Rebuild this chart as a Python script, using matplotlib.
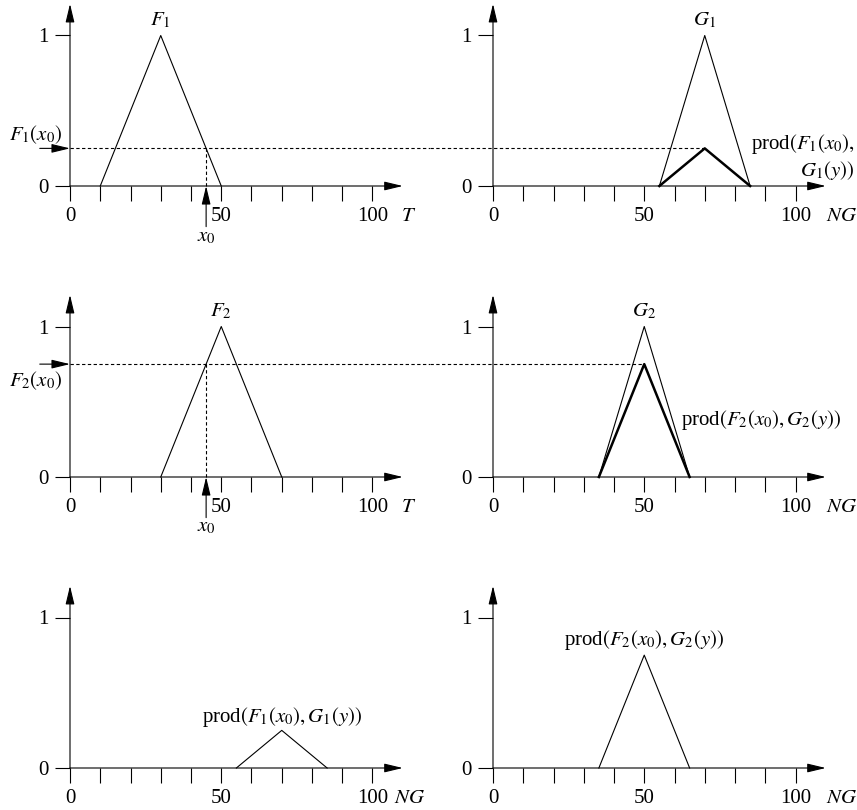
import matplotlib.pyplot as plt
import numpy as np

plt.rcParams['font.family'] = ['Liberation Serif', 'DejaVu Serif']
plt.rcParams['mathtext.fontset'] = 'stix'
plt.rcParams['font.size'] = 15

# membership functions (x corners, y corners)
F1_x = [10, 30, 50]
F2_x = [30, 50, 70]
G1_x = [55, 70, 85]
G2_x = [35, 50, 65]
tri_y = [0, 1, 0]
x0 = 45
tick_pos = list(range(0, 101, 10))
tick_lab = ['0', '', '', '', '', '50', '', '', '', '', '100']

F1_x0 = np.interp(x0, F1_x, tri_y)   # 0.25
F2_x0 = np.interp(x0, F2_x, tri_y)   # 0.75
prod1 = [F1_x0 * v for v in tri_y]
prod2 = [F2_x0 * v for v in tri_y]

W, H = 857, 810
fig = plt.figure(figsize=(W / 100, H / 100), dpi=100)

PX_X = 3.025
PX_Y = 150.5
cols = [(0, 430, 70), (430, 857, 493)]
rows = [(0, 291, 186), (291, 582, 477), (582, 810, 768)]
dash = (0, (3, 2.2))


def panel(col, row, xname, xname_x):
    c0, c1, xz = cols[col]
    r0, r1, yz = rows[row]
    ax = fig.add_axes([c0 / W, 1 - r1 / H, (c1 - c0) / W, (r1 - r0) / H])
    ax.set_xlim((c0 - xz) / PX_X, (c1 - xz) / PX_X)
    ax.set_ylim(-(r1 - yz) / PX_Y, (yz - r0) / PX_Y)
    ax.patch.set_visible(False)
    for s in ax.spines.values():
        s.set_visible(False)
    ax.spines['bottom'].set_position(('data', 0))
    ax.spines['left'].set_position(('data', 0))
    ax.set_xticks(tick_pos, tick_lab)
    ax.set_yticks([0, 1], ['0', '1'])
    ax.tick_params(direction='out', length=10.8, width=0.8, pad=4, labelsize=15)
    ax.tick_params(axis='y', pad=4.5)
    arw = dict(arrowstyle='-|>,head_length=0.75,head_width=0.18', lw=0.8,
               color='k', shrinkA=0, shrinkB=0)
    ax.annotate('', xy=(110, 0), xytext=(0, 0), arrowprops=arw)
    ax.annotate('', xy=(0, 1.21), xytext=(0, 0), arrowprops=arw)
    ax.text(xname_x, -0.2, xname, ha='left', va='center')
    return ax, arw


# row 1
ax, arw = panel(0, 0, '$T$', 109.5)
ax.plot(F1_x, tri_y, color='k', lw=0.8)
ax.text(30, 1.1, '$F_1$', ha='center', va='center')
ax.plot([0, ax.get_xlim()[1]], [F1_x0, F1_x0], color='k', lw=0.8, ls=dash)
ax.plot([x0, x0], [0, F1_x0], color='k', lw=0.8, ls=dash)
ax.annotate('', xy=(x0, 0), xytext=(x0, -0.27), arrowprops=arw)
ax.text(x0, -0.34, '$x_0$', ha='center', va='center')
ax.annotate('', xy=(0, F1_x0), xytext=(-10, F1_x0), arrowprops=arw)
ax.text(-11.5, 0.34, '$F_1(x_0)$', ha='center', va='center')

ax, arw = panel(1, 0, '$NG$', 110)
ax.plot(G1_x, tri_y, color='k', lw=0.8)
ax.plot(G1_x, prod1, color='k', lw=1.8)
ax.text(70, 1.1, '$G_1$', ha='center', va='center')
ax.plot([ax.get_xlim()[0], 70], [F1_x0, F1_x0], color='k', lw=0.8, ls=dash)
ax.text(119.5, 0.28, 'prod$(F_1(x_0),$', ha='right', va='center')
ax.text(119.5, 0.105, '$G_1(y))$', ha='right', va='center')

# row 2
ax, arw = panel(0, 1, '$T$', 109.5)
ax.plot(F2_x, tri_y, color='k', lw=0.8)
ax.text(50, 1.1, '$F_2$', ha='center', va='center')
ax.plot([0, ax.get_xlim()[1]], [F2_x0, F2_x0], color='k', lw=0.8, ls=dash)
ax.plot([x0, x0], [0, F2_x0], color='k', lw=0.8, ls=dash)
ax.annotate('', xy=(x0, 0), xytext=(x0, -0.27), arrowprops=arw)
ax.text(x0, -0.33, '$x_0$', ha='center', va='center')
ax.annotate('', xy=(0, F2_x0), xytext=(-10, F2_x0), arrowprops=arw)
ax.text(-11.5, 0.64, '$F_2(x_0)$', ha='center', va='center')

ax, arw = panel(1, 1, '$NG$', 110)
ax.plot(G2_x, tri_y, color='k', lw=0.8)
ax.plot(G2_x, prod2, color='k', lw=1.8)
ax.text(50, 1.1, '$G_2$', ha='center', va='center')
ax.plot([ax.get_xlim()[0], 50], [F2_x0, F2_x0], color='k', lw=0.8, ls=dash)
ax.text(62.3, 0.38, 'prod$(F_2(x_0), G_2(y))$', ha='left', va='center')

# row 3
ax, arw = panel(0, 2, '$NG$', 107)
ax.plot(G1_x, prod1, color='k', lw=0.8)
ax.text(70, 0.34, 'prod$(F_1(x_0), G_1(y))$', ha='center', va='center')

ax, arw = panel(1, 2, '$NG$', 110)
ax.plot(G2_x, prod2, color='k', lw=0.8)
ax.text(50, 0.85, 'prod$(F_2(x_0), G_2(y))$', ha='center', va='center')

fig.savefig('out.png', dpi=100)
